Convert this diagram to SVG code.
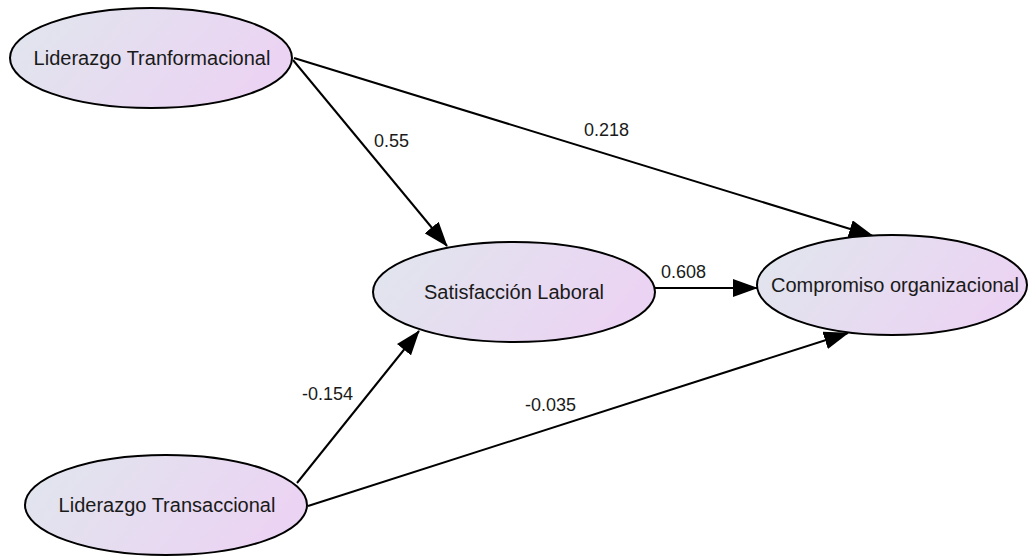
<svg xmlns="http://www.w3.org/2000/svg" width="1028" height="557" viewBox="0 0 1028 557">
<defs>
<linearGradient id="g" x1="0" y1="0" x2="1" y2="0.3">
<stop offset="0" stop-color="#e0e6ed"/>
<stop offset="1" stop-color="#ebd4f3"/>
</linearGradient>
<marker id="arr" markerUnits="userSpaceOnUse" markerWidth="25" markerHeight="18" refX="24" refY="9" orient="auto">
<path d="M0,0 L25,9 L0,18 z" fill="#000"/>
</marker>
<style>
.node ellipse{fill:url(#g);stroke:#000;stroke-width:2}
.node text{font-family:"Liberation Sans",Arial,sans-serif;font-size:20px;fill:#1a1a1a;text-anchor:middle}
.edge{stroke:#000;stroke-width:2;fill:none;marker-end:url(#arr)}
.lbl{font-family:"Liberation Sans",Arial,sans-serif;font-size:18px;fill:#1a1a1a}
</style>
</defs>
<rect width="1028" height="557" fill="#fff"/>
<g id="connectors">
<line class="edge" x1="293" y1="60" x2="447" y2="246"/>
<line class="edge" x1="294" y1="58" x2="873" y2="236"/>
<line class="edge" x1="655" y1="288" x2="757" y2="288"/>
<line class="edge" x1="297" y1="483" x2="419" y2="331"/>
<line class="edge" x1="308" y1="506" x2="848" y2="333"/>
<text class="lbl" x="374" y="147">0.55</text>
<text class="lbl" x="584" y="136">0.218</text>
<text class="lbl" x="661" y="278">0.608</text>
<text class="lbl" x="302" y="400">-0.154</text>
<text class="lbl" x="525" y="411">-0.035</text>
</g>
<g id="node-transformacional" class="node">
<ellipse cx="151" cy="58" rx="141" ry="50"/>
<text x="152" y="65">Liderazgo Tranformacional</text>
</g>
<g id="node-satisfaccion" class="node">
<ellipse cx="514" cy="292" rx="141" ry="50"/>
<text x="514" y="299">Satisfacción Laboral</text>
</g>
<g id="node-compromiso" class="node">
<ellipse cx="892" cy="285" rx="135" ry="50"/>
<text x="895" y="292">Compromiso organizacional</text>
</g>
<g id="node-transaccional" class="node">
<ellipse cx="166" cy="505" rx="141" ry="50"/>
<text x="167" y="512">Liderazgo Transaccional</text>
</g>
</svg>
